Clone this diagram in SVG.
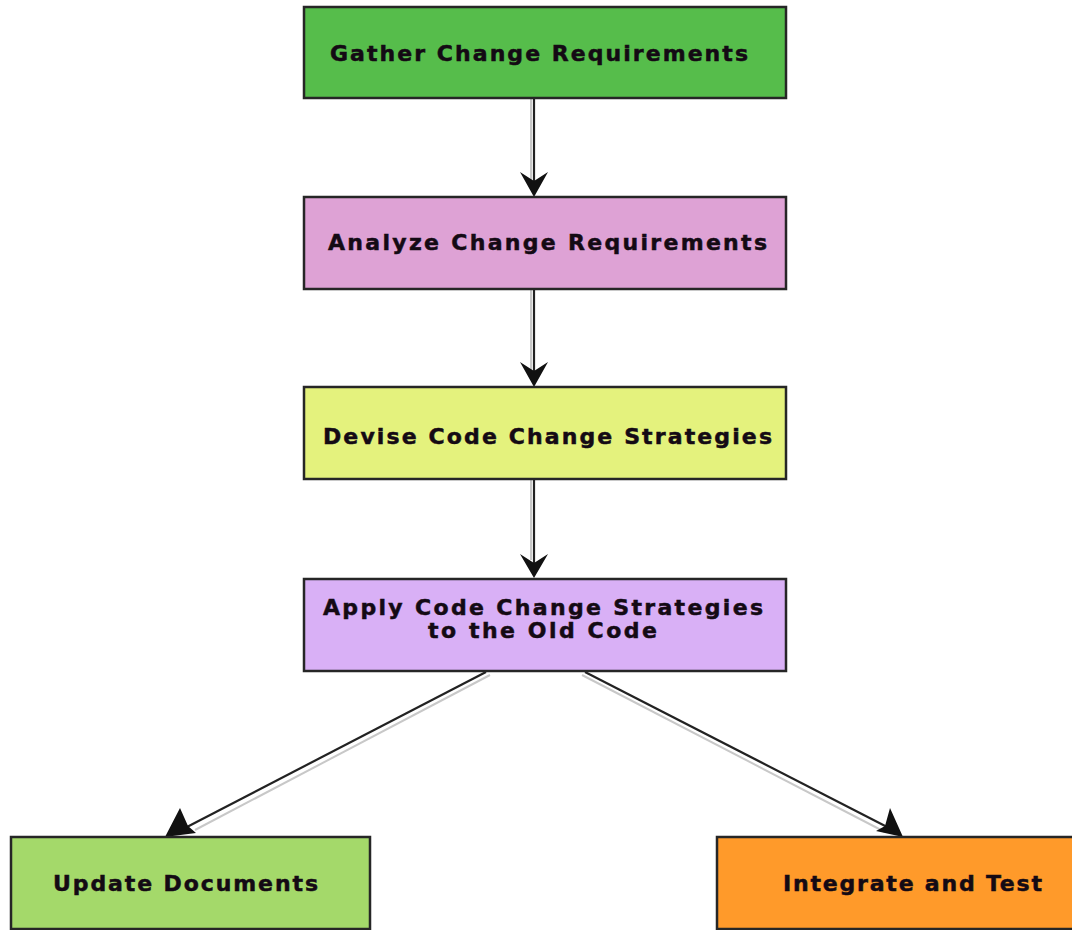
<svg xmlns="http://www.w3.org/2000/svg" width="1072" height="930" viewBox="0 0 1072 930">
<style>
.box{stroke:#262626;stroke-width:2.5}
.lbl{font-family:"DejaVu Sans","Verdana",sans-serif;font-weight:bold;font-size:22px;fill:#140a14;stroke:#140a14;stroke-width:0.5}
.ln{stroke:#222;stroke-width:2.2;fill:none}
.sh{stroke:#c8c8c8;stroke-width:2;fill:none}
.ah{fill:#111}
</style>
<rect width="1072" height="930" fill="#ffffff"/>
<g id="connectors">
  <line class="sh" x1="531" y1="99" x2="531" y2="180"/>
  <line class="ln" x1="534" y1="99" x2="534" y2="185"/>
  <polygon class="ah" points="520,172 534,181 548,172 534,197"/>
  <line class="sh" x1="531" y1="290" x2="531" y2="370"/>
  <line class="ln" x1="534" y1="290" x2="534" y2="376"/>
  <polygon class="ah" points="520,362 534,371 548,362 534,387"/>
  <line class="sh" x1="531" y1="480" x2="531" y2="560"/>
  <line class="ln" x1="534" y1="480" x2="534" y2="567"/>
  <polygon class="ah" points="520,554 534,563 548,554 534,578"/>
  <line class="sh" x1="490" y1="675" x2="195" y2="830"/>
  <line class="ln" x1="486" y1="672" x2="185" y2="828"/>
  <polygon class="ah" points="180,808 188,826 196,833 165,837"/>
  <line class="sh" x1="582" y1="675" x2="885" y2="832"/>
  <line class="ln" x1="585" y1="672" x2="893" y2="830"/>
  <polygon class="ah" points="890,808 903,837 876,831 885,826"/>
</g>
<g id="gather">
  <rect class="box" x="304" y="7" width="482" height="91" fill="#56bd4b"/>
  <text class="lbl" x="330" y="61" textLength="418" lengthAdjust="spacing">Gather Change Requirements</text>
</g>
<g id="analyze">
  <rect class="box" x="304" y="197" width="482" height="92" fill="#dea2d5"/>
  <text class="lbl" x="328" y="250" textLength="439" lengthAdjust="spacing">Analyze Change Requirements</text>
</g>
<g id="devise">
  <rect class="box" x="304" y="387" width="482" height="92" fill="#e4f27d"/>
  <text class="lbl" x="323" y="444" textLength="449" lengthAdjust="spacing">Devise Code Change Strategies</text>
</g>
<g id="apply">
  <rect class="box" x="304" y="579" width="482" height="92" fill="#d9b0f6"/>
  <text class="lbl" x="323" y="615" textLength="440" lengthAdjust="spacing">Apply Code Change Strategies</text>
  <text class="lbl" x="428" y="638" textLength="229" lengthAdjust="spacing">to the Old Code</text>
</g>
<g id="update">
  <rect class="box" x="11" y="837" width="359" height="92" fill="#a4d96a"/>
  <text class="lbl" x="53" y="891" textLength="265" lengthAdjust="spacing">Update Documents</text>
</g>
<g id="integrate">
  <rect class="box" x="717" y="837" width="365" height="92" fill="#ff9a2a"/>
  <text class="lbl" x="783" y="891" textLength="259" lengthAdjust="spacing">Integrate and Test</text>
</g>
</svg>
